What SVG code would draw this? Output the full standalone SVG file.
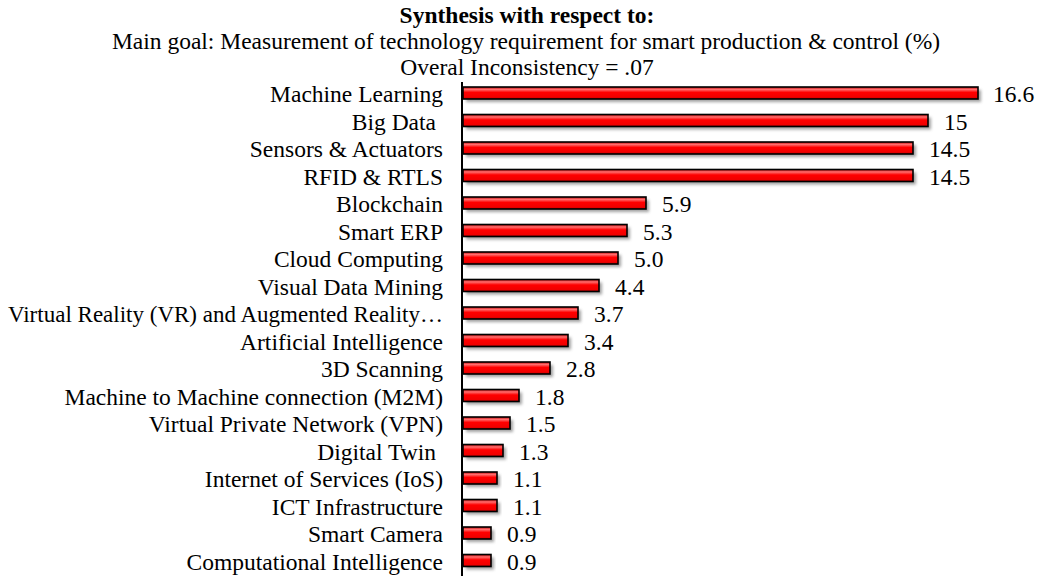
<svg xmlns="http://www.w3.org/2000/svg" width="1041" height="576" viewBox="0 0 1041 576">
<style>
text{font-family:"Liberation Serif","Times New Roman",serif;font-size:23.5px;fill:#000}
.t{font-weight:bold;text-anchor:middle}
.h{text-anchor:middle}
.lab{text-anchor:end}
.bar{fill:url(#rg);stroke:#000;stroke-width:1.6}
.sh{fill:#555;opacity:0.55;filter:url(#bl)}
</style>
<defs>
<linearGradient id="rg" x1="0" y1="0" x2="0" y2="1">
<stop offset="0" stop-color="#c00000"/>
<stop offset="0.2" stop-color="#ff7070"/>
<stop offset="0.45" stop-color="#ff0000"/>
<stop offset="0.85" stop-color="#f00000"/>
<stop offset="1" stop-color="#a00000"/>
</linearGradient>
<filter id="bl" x="-5%" y="-50%" width="110%" height="200%"><feGaussianBlur stdDeviation="1.5"/></filter>
</defs>
<g id="title">
<text class="t" x="527" y="23">Synthesis with respect to:</text>
<text class="h" x="526" y="49">Main goal: Measurement of technology requirement for smart production &amp; control (%)</text>
<text class="h" x="527" y="75">Overal Inconsistency = .07</text>
</g>
<g id="labels">
<text class="lab" x="443" y="102">Machine Learning</text>
<text class="lab" x="436" y="129.5">Big Data</text>
<text class="lab" x="443" y="157">Sensors &amp; Actuators</text>
<text class="lab" x="443" y="184.5">RFID &amp; RTLS</text>
<text class="lab" x="443" y="212">Blockchain</text>
<text class="lab" x="443" y="239.5">Smart ERP</text>
<text class="lab" x="443" y="267">Cloud Computing</text>
<text class="lab" x="443" y="294.5">Visual Data Mining</text>
<text class="lab" x="443" y="322" textLength="435" lengthAdjust="spacingAndGlyphs">Virtual Reality (VR) and Augmented Reality…</text>
<text class="lab" x="443" y="349.5">Artificial Intelligence</text>
<text class="lab" x="443" y="377">3D Scanning</text>
<text class="lab" x="443" y="404.5">Machine to Machine connection (M2M)</text>
<text class="lab" x="443" y="432">Virtual Private Network (VPN)</text>
<text class="lab" x="436" y="459.5">Digital Twin</text>
<text class="lab" x="443" y="487">Internet of Services (IoS)</text>
<text class="lab" x="443" y="514.5">ICT Infrastructure</text>
<text class="lab" x="443" y="542">Smart Camera</text>
<text class="lab" x="443" y="569.5">Computational Intelligence</text>
</g>
<g id="shadows">
<rect class="sh" x="466" y="90" width="515" height="12"/>
<rect class="sh" x="466" y="117.5" width="465" height="12"/>
<rect class="sh" x="466" y="145" width="450" height="12"/>
<rect class="sh" x="466" y="172.5" width="450" height="12"/>
<rect class="sh" x="466" y="200" width="183" height="12"/>
<rect class="sh" x="466" y="227.5" width="164" height="12"/>
<rect class="sh" x="466" y="255" width="155" height="12"/>
<rect class="sh" x="466" y="282.5" width="136" height="12"/>
<rect class="sh" x="466" y="310" width="115" height="12"/>
<rect class="sh" x="466" y="337.5" width="105" height="12"/>
<rect class="sh" x="466" y="365" width="87" height="12"/>
<rect class="sh" x="466" y="392.5" width="56" height="12"/>
<rect class="sh" x="466" y="420" width="47" height="12"/>
<rect class="sh" x="466" y="447.5" width="40" height="12"/>
<rect class="sh" x="466" y="475" width="34" height="12"/>
<rect class="sh" x="466" y="502.5" width="34" height="12"/>
<rect class="sh" x="466" y="530" width="28" height="12"/>
<rect class="sh" x="466" y="557.5" width="28" height="12"/>
</g>
<g id="bars">
<rect class="bar" x="463" y="87" width="515" height="12"/>
<rect class="bar" x="463" y="114.5" width="465" height="12"/>
<rect class="bar" x="463" y="142" width="450" height="12"/>
<rect class="bar" x="463" y="169.5" width="450" height="12"/>
<rect class="bar" x="463" y="197" width="183" height="12"/>
<rect class="bar" x="463" y="224.5" width="164" height="12"/>
<rect class="bar" x="463" y="252" width="155" height="12"/>
<rect class="bar" x="463" y="279.5" width="136" height="12"/>
<rect class="bar" x="463" y="307" width="115" height="12"/>
<rect class="bar" x="463" y="334.5" width="105" height="12"/>
<rect class="bar" x="463" y="362" width="87" height="12"/>
<rect class="bar" x="463" y="389.5" width="56" height="12"/>
<rect class="bar" x="463" y="417" width="47" height="12"/>
<rect class="bar" x="463" y="444.5" width="40" height="12"/>
<rect class="bar" x="463" y="472" width="34" height="12"/>
<rect class="bar" x="463" y="499.5" width="34" height="12"/>
<rect class="bar" x="463" y="527" width="28" height="12"/>
<rect class="bar" x="463" y="554.5" width="28" height="12"/>
</g>
<g id="values">
<text x="993" y="102">16.6</text>
<text x="944" y="129.5">15</text>
<text x="929" y="157">14.5</text>
<text x="929" y="184.5">14.5</text>
<text x="662" y="212">5.9</text>
<text x="643" y="239.5">5.3</text>
<text x="634" y="267">5.0</text>
<text x="615" y="294.5">4.4</text>
<text x="594" y="322">3.7</text>
<text x="584" y="349.5">3.4</text>
<text x="566" y="377">2.8</text>
<text x="535" y="404.5">1.8</text>
<text x="526" y="432">1.5</text>
<text x="519" y="459.5">1.3</text>
<text x="513" y="487">1.1</text>
<text x="513" y="514.5">1.1</text>
<text x="507" y="542">0.9</text>
<text x="507" y="569.5">0.9</text>
</g>
<g id="axis">
<line x1="462" y1="82" x2="462" y2="576" stroke="#000" stroke-width="2"/>
</g>
</svg>
